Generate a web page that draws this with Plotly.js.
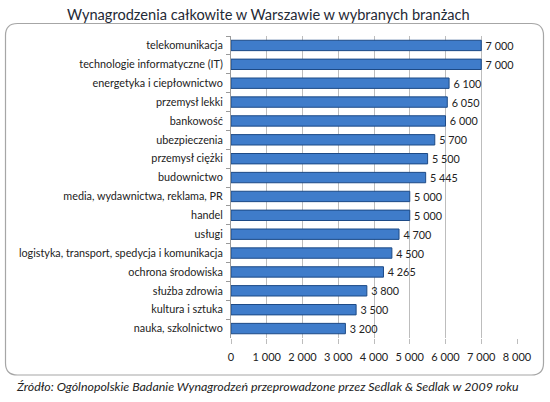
<!DOCTYPE html>
<html>
<head>
<meta charset="utf-8">
<script src="https://cdn.plot.ly/plotly-3.0.1.min.js"></script>
<style>
html,body{margin:0;padding:0;background:#fff;}
#chart{width:550px;height:402px;}
</style>
</head>
<body>
<div id="chart"></div>
<script>
const categories = [
  "telekomunikacja",
  "technologie informatyczne (IT)",
  "energetyka i ciepłownictwo",
  "przemysł lekki",
  "bankowość",
  "ubezpieczenia",
  "przemysł ciężki",
  "budownictwo",
  "media, wydawnictwa, reklama, PR",
  "handel",
  "usługi",
  "logistyka, transport, spedycja i komunikacja",
  "ochrona środowiska",
  "służba zdrowia",
  "kultura i sztuka",
  "nauka, szkolnictwo"
];
const salaries = [7000, 7000, 6100, 6050, 6000, 5700, 5500, 5445, 5000, 5000, 4700, 4500, 4265, 3800, 3500, 3200];
const xTicks = [0, 1000, 2000, 3000, 4000, 5000, 6000, 7000, 8000];

const titleText = "Wynagrodzenia całkowite w Warszawie w wybranych branżach";
const sourceText = "Źródło: Ogólnopolskie Badanie Wynagrodzeń przeprowadzone przez Sedlak & Sedlak w 2009 roku";

const W = 550, H = 402;
const mL = 231, mR = 33, mT = 36, mB = 64;
const pw = W - mL - mR, ph = H - mT - mB;
function px(x){ return (x - mL) / pw; }
function py(y){ return (H - mB - y) / ph; }

// rounded rectangle frame in paper coords
const x0 = px(5.5), x1 = px(543.5), y0 = py(23.5), y1 = py(375);
const rx = 12 / pw, ry = 12 / ph;
const framePath = `M ${x0+rx},${y0} L ${x1-rx},${y0} Q ${x1},${y0} ${x1},${y0-ry} L ${x1},${y1+ry} Q ${x1},${y1} ${x1-rx},${y1} L ${x0+rx},${y1} Q ${x0},${y1} ${x0},${y1+ry} L ${x0},${y0-ry} Q ${x0},${y0} ${x0+rx},${y0} Z`;

const FONT = "Lato, 'Open Sans', sans-serif";

const trace = {
  type: "bar",
  orientation: "h",
  x: salaries,
  y: categories,
  width: 0.55,
  marker: {
    color: "#3f7cca",
    line: { color: "#1d4a86", width: 1 }
  },
  texttemplate: "\u2009%{x:,d}",
  textposition: "outside",
  constraintext: "none",
  cliponaxis: false,
  textfont: { family: FONT, size: 10.8, color: "#222" },
  hoverinfo: "x+y"
};

const layout = {
  width: W, height: H,
  margin: { l: mL, r: mR, t: mT, b: mB, pad: 0 },
  separators: ", ",
  paper_bgcolor: "#fff",
  plot_bgcolor: "#fff",
  showlegend: false,
  font: { family: FONT, size: 11, color: "#222" },
  xaxis: {
    range: [0, 8000],
    tickvals: xTicks,
    tickformat: ",d",
    showgrid: true,
    gridcolor: "#bdbdbd",
    gridwidth: 1,
    zeroline: false,
    showline: false,
    ticks: "outside",
    ticklen: 5,
    tickcolor: "#bdbdbd",
    ticklabelstandoff: 4,
    tickfont: { size: 11, color: "#222" },
    fixedrange: true
  },
  yaxis: {
    type: "category",
    autorange: "reversed",
    showgrid: false,
    showline: true,
    linecolor: "#9a9a9a",
    ticks: "outside",
    tickson: "boundaries",
    ticklen: 4,
    tickcolor: "#9a9a9a",
    ticklabelstandoff: 5,
    tickfont: { size: 10.8, color: "#222" },
    fixedrange: true
  },
  shapes: [
    { type: "path", xref: "paper", yref: "paper", path: framePath,
      line: { color: "#a6a6a6", width: 1.2 }, fillcolor: "rgba(0,0,0,0)", layer: "below" }
  ],
  annotations: [
    { text: titleText, xref: "paper", yref: "paper", x: px(268), y: py(14),
      xanchor: "center", yanchor: "middle", showarrow: false,
      font: { family: FONT, size: 14.6, color: "#1f2a36" } },
    { text: "<i>" + sourceText + "</i>", xref: "paper", yref: "paper", x: px(14), y: py(386),
      xanchor: "left", yanchor: "middle", showarrow: false,
      font: { family: FONT, size: 12.4, color: "#222" } }
  ]
};

Plotly.newPlot("chart", [trace], layout, { displayModeBar: false, staticPlot: true });
</script>
</body>
</html>
